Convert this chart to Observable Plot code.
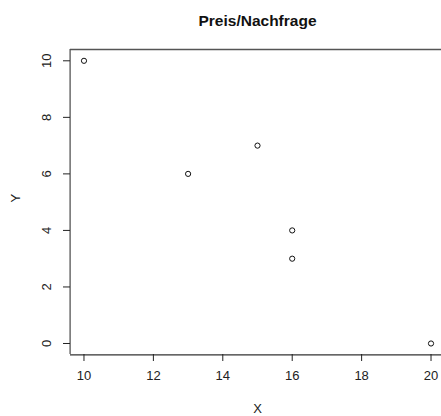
<!DOCTYPE html>
<html>
<head>
<meta charset="utf-8">
<script src="https://cdn.jsdelivr.net/npm/d3@7"></script>
<script src="https://cdn.jsdelivr.net/npm/@observablehq/plot@0.6"></script>
<style>
html, body { margin: 0; padding: 0; background: #fff; overflow: hidden; }
</style>
</head>
<body>
<div id="chart"></div>
<script>
const title = "Preis/Nachfrage";
const xLabel = "X";
const yLabel = "Y";
const xValues = [10, 13, 15, 16, 16, 20];
const yValues = [10, 6, 7, 4, 3, 0];
const xTicks = [10, 12, 14, 16, 18, 20];
const yTicks = [0, 2, 4, 6, 8, 10];

const points = xValues.map((x, i) => ({x, y: yValues[i]}));
const font = "Liberation Sans, Arial, sans-serif";

const plot = Plot.plot({
  width: 441,
  height: 416,
  marginLeft: 70,
  marginRight: 0,
  marginTop: 49,
  marginBottom: 62,
  style: {fontFamily: font, fontSize: "12px", color: "#222", background: "#fff"},
  x: {domain: [9.6, 20.4], range: [69.6, 444.4]},
  y: {domain: [-0.4, 10.4], range: [354.3, 49]},
  marks: [
    Plot.ruleY([10.4], {stroke: "#555", strokeWidth: 1.3}),
    Plot.ruleY([-0.4], {stroke: "#333", strokeWidth: 1.3}),
    Plot.ruleX([9.6], {stroke: "#555", strokeWidth: 1.3}),
    Plot.axisX({ticks: xTicks, tickSize: 7, tickPadding: 9, label: null, fontSize: 13, stroke: "#222"}),
    Plot.axisY({ticks: yTicks, tickSize: 7, tickPadding: 13, tickRotate: -90, label: null, fontSize: 13, stroke: "#222"}),
    Plot.dot(points, {x: "x", y: "y", r: 2.6, stroke: "#111", strokeWidth: 1, fill: "none"}),
    Plot.text([title], {frameAnchor: "top", dx: 257 - (70 + 441) / 2, dy: -35, fontWeight: "bold", fontSize: 15.5, fill: "#111"}),
    Plot.text([xLabel], {frameAnchor: "bottom", dx: 257 - (70 + 441) / 2, dy: 58, fontSize: 13, fill: "#222"}),
    Plot.text([yLabel], {frameAnchor: "left", dx: -55, dy: 202 - (49 + 354) / 2, rotate: -90, fontSize: 13, fill: "#222"})
  ]
});
document.getElementById("chart").appendChild(plot);
</script>
</body>
</html>
